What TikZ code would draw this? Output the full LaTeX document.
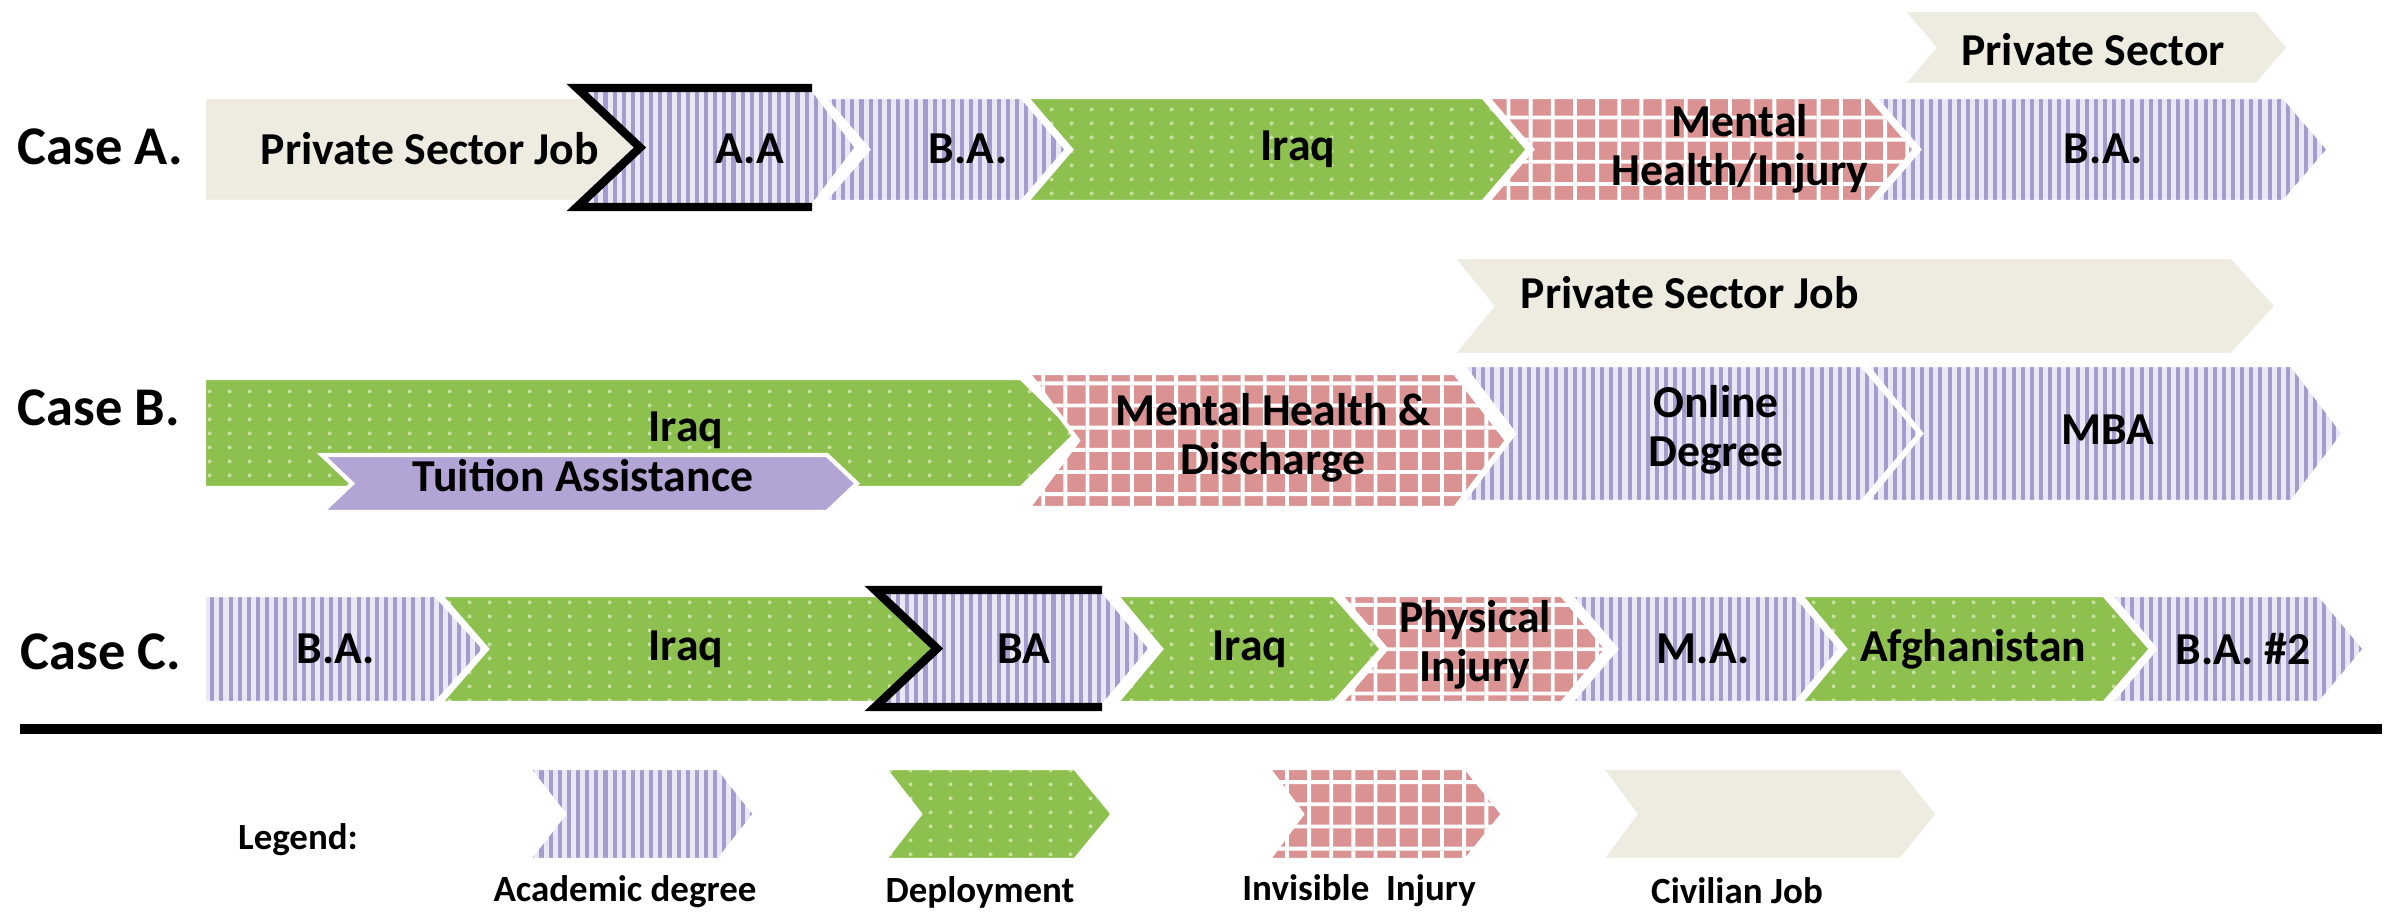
\documentclass[tikz,border=0pt]{standalone}
\usepackage{fontspec}
\setmainfont{Carlito}
\usetikzlibrary{patterns}

\definecolor{civbg}{RGB}{238,236,225}
\definecolor{degbg}{RGB}{234,231,245}
\definecolor{degline}{RGB}{163,156,206}
\definecolor{deploybg}{RGB}{142,192,80}
\definecolor{deploydot}{RGB}{196,226,156}
\definecolor{injurybg}{RGB}{218,146,146}
\definecolor{tuitionbg}{RGB}{178,164,212}

% fill patterns of the four kinds
\pgfdeclarepatternformonly{degreestripes}{\pgfpoint{-0.1pt}{-0.1pt}}{\pgfpoint{2.7pt}{4.1pt}}{\pgfpoint{2.6pt}{4pt}}{%
  \pgfpathrectangle{\pgfpointorigin}{\pgfpoint{1.15pt}{4pt}}%
  \pgfusepath{fill}}
\pgfdeclarepatternformonly{injurygrid}{\pgfpoint{-0.1pt}{-0.1pt}}{\pgfpoint{6.4pt}{6.4pt}}{\pgfpoint{6.3pt}{6.3pt}}{%
  \pgfpathrectangle{\pgfpointorigin}{\pgfpoint{1.1pt}{6.3pt}}%
  \pgfpathrectangle{\pgfpointorigin}{\pgfpoint{6.3pt}{1.1pt}}%
  \pgfusepath{fill}}
\pgfdeclarepatternformonly{deploydots}{\pgfpointorigin}{\pgfpoint{5.7pt}{4pt}}{\pgfpoint{5.7pt}{4pt}}{%
  \pgfpathcircle{\pgfpoint{2.85pt}{2pt}}{0.6pt}%
  \pgfusepath{fill}}

% chevron: left, right, top, bottom, notch, tip
\newcommand{\chev}[6]{(#1,#3) -- (#2,#3) -- ({#2+#6},{(#3+#4)/2}) -- (#2,#4) -- (#1,#4) -- ({#1+#5},{(#3+#4)/2}) -- cycle}

\tikzset{
  degree/.style={preaction={fill=degbg}, preaction={pattern=degreestripes, pattern color=degline}, draw=white, line width=1.2pt},
  deploy/.style={preaction={fill=deploybg}, preaction={pattern=deploydots, pattern color=deploydot}, draw=white, line width=1.2pt},
  injury/.style={preaction={fill=injurybg}, preaction={pattern=injurygrid, pattern color=white}, draw=white, line width=1.2pt},
  civil/.style={fill=civbg, draw=white, line width=1.2pt},
  tuition/.style={fill=tuitionbg, draw=white, line width=1.2pt},
  frame/.style={draw=black, line width=2.4pt},
  lbl/.style={font=\fontsize{13}{14}\selectfont\bfseries, align=center, inner sep=0pt},
  case/.style={font=\fontsize{15.5}{16}\selectfont\bfseries, anchor=west, inner sep=0pt},
  key/.style={font=\fontsize{10.5}{12}\selectfont\bfseries, inner sep=0pt}
}

\begin{document}
\begin{tikzpicture}[x=0.01cm, y=-0.01cm]
\useasboundingbox (0,0) rectangle (2389,917);
%% Case A
\path[civil] \chev{204}{583}{97}{202}{0}{57};
\path[degree] \chev{823}{1022}{97}{202}{45}{45};
\path[deploy] \chev{1026}{1483}{97}{202}{45}{45};
\path[injury] \chev{1487}{1870}{97}{202}{45}{45};
\path[degree] \chev{1874}{2284}{97}{202}{45}{45};
\path[civil] \chev{1902}{2257}{10}{85}{32}{32};
\path[degree] \chev{577}{812}{88}{207}{63}{45};
\draw[frame] (812,88) -- (577,88) -- (640,147.5) -- (577,207) -- (812,207);
\node[case] (casea) at (17,147) {Case A.};
\node[lbl] (a1) at (430,149) {Private Sector Job};
\node[lbl] (a2) at (750,149) {A.A};
\node[lbl] (a3) at (968,149) {B.A.};
\node[lbl] (a4) at (1298,149) {Iraq};
\node[lbl] (a5) at (1740,149) {Mental\\Health/Injury};
\node[lbl] (a6) at (2103,149) {B.A.};
\node[lbl] (a7) at (2093,50) {Private Sector};
%% Case B
\path[deploy] \chev{204}{1021}{378}{488}{0}{56};
\path[injury] \chev{1028}{1455}{373}{508}{50}{52};
\path[degree] \chev{1462}{1862}{365}{502}{52}{58};
\path[degree] \chev{1866}{2292}{365}{502}{55}{52};
\path[civil] \chev{1452}{2232}{257}{355}{40}{45};
\path[tuition] \chev{322}{827}{455}{512}{30}{30};
\node[case] (caseb) at (17,408) {Case B.};
\node[lbl] (b1) at (686,430) {Iraq};
\node[lbl] (b2) at (583,476) {Tuition Assistance};
\node[lbl] (b3) at (1273,438) {Mental Health \&\\Discharge};
\node[lbl] (b4) at (1716,430) {Online\\Degree};
\node[lbl] (b5) at (2108,430) {MBA};
\node[lbl] (b6) at (1690,293) {Private Sector Job};
%% Case C
\path[degree] \chev{204}{436}{595}{703}{0}{49};
\path[deploy] \chev{440}{885}{595}{703}{47}{55};
\path[degree] \chev{875}{1102}{590}{707}{62}{49};
\draw[frame] (1102,590) -- (875,590) -- (937,648.5) -- (875,707) -- (1102,707);
\path[deploy] \chev{1116}{1334}{595}{703}{45}{48};
\path[injury] \chev{1340}{1562}{595}{703}{46}{45};
\path[degree] \chev{1570}{1796}{595}{703}{46}{45};
\path[deploy] \chev{1800}{2104}{595}{703}{45}{47};
\path[degree] \chev{2110}{2320}{595}{703}{45}{45};
\node[case] (casec) at (20,652) {Case C.};
\node[lbl] (c1) at (336,649) {B.A.};
\node[lbl] (c2) at (686,649) {Iraq};
\node[lbl] (c3) at (1024,649) {BA};
\node[lbl] (c4) at (1250,649) {Iraq};
\node[lbl] (c5) at (1475,645) {Physical\\Injury};
\node[lbl] (c6) at (1703,649) {M.A.};
\node[lbl] (c7) at (1973,649) {Afghanistan};
\node[lbl] (c8) at (2243,649) {B.A. \#2};
%% rule
\coordinate (rl) at (20,729);
\coordinate (rr) at (2382,729);
\draw[line width=2.6pt] (rl) -- (rr);
%% legend
\path[degree] \chev{528}{719}{768}{860}{36}{36};
\path[deploy] \chev{884}{1075}{768}{860}{36}{38};
\path[injury] \chev{1268}{1466}{768}{860}{34}{37};
\path[civil] \chev{1601}{1901}{768}{860}{34}{37};
\node[key] (legend) at (298,840) {Legend:};
\node[key] (k1) at (625,892) {Academic degree};
\node[key] (k2) at (980,892) {Deployment};
\node[key] (k3) at (1359,891) {Invisible\ \ Injury};
\node[key] (k4) at (1737,891) {Civilian Job};
\end{tikzpicture}
\end{document}
